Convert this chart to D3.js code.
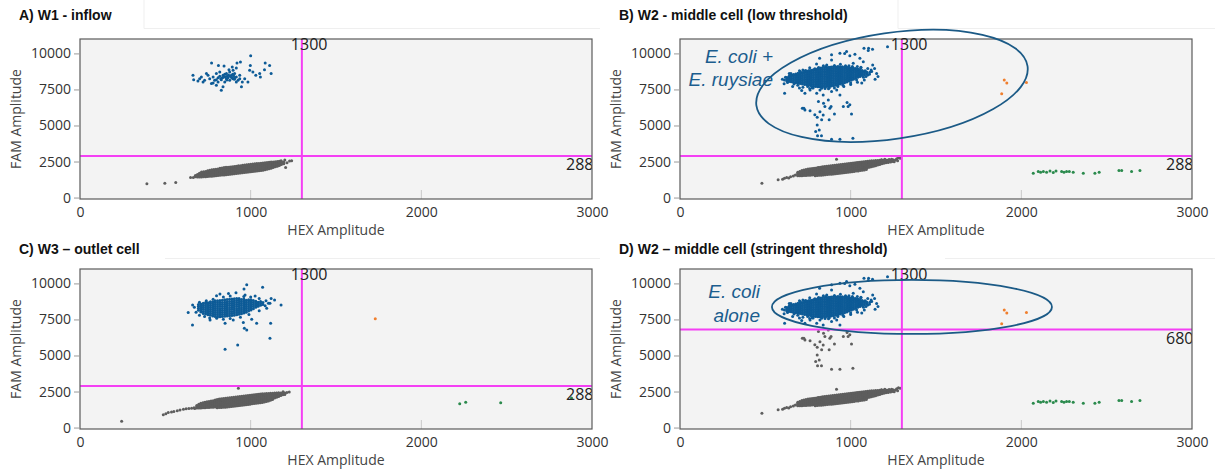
<!DOCTYPE html>
<html lang="en">
<head>
<meta charset="UTF-8">
<title>ddPCR 2D amplitude plots</title>
<script src="https://d3js.org/d3.v7.min.js"></script>
<style>
  body { margin: 0; background: #fff; }
  svg { display: block; }
</style>
</head>
<body>
<div id="chart"></div>
<script>
// axes
const hexDomain = [0, 3000];
const famDomain = [-100, 11000];
const hexTicks = [0, 1000, 2000, 3000];
const famTicks = [0, 2500, 5000, 7500, 10000];

// panels
const panelTitles = ["A) W1 - inflow", "B) W2 - middle cell (low threshold)",
                     "C) W3 \u2013 outlet cell", "D) W2 \u2013 middle cell (stringent threshold)"];
const panelWells = ["w1", "w2", "w3", "w2"];
const hexThreshold = [1300, 1300, 1300, 1300];
const famThreshold = [2880, 2880, 2880, 6800];

// droplets. "Core" arrays are columns: [HEX, FAM, FAM, ...]; the others are [HEX, FAM] pairs
const w1NegCore = [
  [676,1440,1525],[688,1430,1515,1600],[700,1425,1510,1595,1680],[712,1430,1515,1600,1690,1770],
  [724,1440,1525,1610,1700,1790],[736,1450,1535,1625,1715,1810],[748,1460,1550,1640,1730,1820,1860],
  [760,1475,1565,1655,1745,1835,1890],[772,1485,1575,1665,1755,1845,1925],[784,1500,1590,1680,1770,1860,1950],
  [796,1515,1605,1695,1785,1875,1970],[808,1530,1620,1710,1800,1890,1985],[820,1545,1635,1725,1815,1905,1995,2030],
  [832,1560,1650,1740,1830,1920,2010,2055],[844,1570,1660,1750,1840,1930,2020,2080],[856,1585,1675,1765,1855,1945,2035,2095],
  [868,1600,1690,1780,1870,1960,2050,2110],[880,1615,1705,1795,1885,1975,2065,2120],[892,1630,1720,1810,1900,1990,2080,2140],
  [904,1645,1735,1825,1915,2005,2095,2160],[916,1665,1755,1845,1935,2025,2115,2180],[928,1680,1770,1860,1950,2040,2130,2200],
  [940,1700,1790,1880,1970,2060,2150,2215],[952,1715,1805,1895,1985,2075,2165,2235],[964,1735,1825,1915,2005,2095,2185,2255],
  [976,1750,1840,1930,2020,2110,2200,2270],[988,1770,1860,1950,2040,2130,2220,2290],[1000,1790,1880,1970,2060,2150,2240,2305],
  [1012,1805,1895,1985,2075,2165,2255,2320],[1024,1825,1915,2005,2095,2185,2275,2340],[1036,1840,1930,2020,2110,2200,2290,2355],
  [1048,1855,1945,2035,2125,2215,2305,2370],[1060,1875,1965,2055,2145,2235,2320,2385],[1072,1895,1985,2075,2165,2255,2340,2400],
  [1084,1925,2010,2095,2180,2265,2350,2415],[1096,1960,2040,2120,2200,2280,2360,2430],[1108,2000,2075,2150,2225,2300,2375,2445],
  [1120,2040,2110,2180,2250,2320,2390,2460],[1132,2085,2150,2215,2280,2345,2410,2475],[1144,2130,2190,2250,2310,2370,2430,2490],
  [1156,2180,2235,2290,2345,2400,2455,2505],[1168,2230,2280,2330,2380,2430,2480,2520],[1180,2290,2340,2390,2440,2500],
  [1194,2350,2400,2460]
];
const w1NegOut = [[392,950],[497,990],[561,1040],[648,1390],[664,1400],[1213,2420],[1228,2530],
  [1205,2080],[1240,2560],[1178,2560],[1200,2610]];
const w1Pos = [[1000,9840],[771,9330],[811,9170],[844,9130],[892,9050],[920,9330],[940,9400],[998,9170],
  [1085,9330],[1111,9170],[1081,8870],[1120,8600],[1053,8600],[1013,8710],[1057,8370],[1030,8480],
  [994,8830],[662,8480],[666,8180],[691,8090],[711,8370],[730,8140],[750,8480],[760,8250],[780,8370],
  [789,8140],[799,8600],[809,8320],[819,8710],[828,8180],[838,8480],[848,8020],[858,8600],[867,8320],
  [877,8710],[887,8480],[897,8250],[906,8600],[916,8370],[926,8140],[936,8480],[951,8020],[965,8250],
  [984,8020],[799,7790],[828,7450],[838,7680],[770,7910],[946,7680],[897,8830],[873,8870],[916,8990],
  [741,8600],[780,7950],[721,8020],[701,8250],[858,8250],[877,8140],[862,8410],[887,8370],[906,8320],
  [834,8320],[848,8550],[819,8410],[799,8180],[809,8020],[936,8250],[916,8020],[870,8500],[890,8300],
  [850,8380],[880,8420],[900,8450],[905,8200],[860,8150],[825,8250],[840,8350],[895,8560]];

const w2NegCore = [
  [690,1505,1590,1675,1750],[702,1510,1595,1685,1770,1800],[714,1515,1600,1690,1780,1870],
  [726,1525,1615,1705,1795,1885,1920],[738,1535,1625,1715,1805,1895,1950],[750,1545,1635,1725,1815,1905,1980],
  [762,1555,1645,1735,1825,1915,2000],[774,1570,1660,1750,1840,1930,2020],[786,1580,1670,1760,1850,1940,2040],
  [798,1595,1685,1775,1865,1955,2055],[810,1610,1700,1790,1880,1970,2060,2085],[822,1625,1715,1805,1895,1985,2075,2110],
  [834,1640,1730,1820,1910,2000,2090,2135],[846,1655,1745,1835,1925,2015,2105,2155],[858,1670,1760,1850,1940,2030,2120,2170],
  [870,1685,1775,1865,1955,2045,2135,2190],[882,1700,1790,1880,1970,2060,2150,2205],[894,1720,1810,1900,1990,2080,2170,2225],
  [906,1735,1825,1915,2005,2095,2185,2245],[918,1755,1845,1935,2025,2115,2205,2265],[930,1770,1860,1950,2040,2130,2220,2280],
  [942,1790,1880,1970,2060,2150,2240,2300],[954,1810,1900,1990,2080,2170,2260,2315],[966,1825,1915,2005,2095,2185,2275,2330],
  [978,1845,1935,2025,2115,2205,2295,2350],[990,1865,1955,2045,2135,2225,2315,2365],[1002,1880,1970,2060,2150,2240,2330,2385],
  [1014,1900,1990,2080,2170,2260,2350,2400],[1026,1920,2010,2100,2190,2280,2370,2420],[1038,1940,2030,2120,2210,2300,2390,2440],
  [1050,1955,2045,2135,2225,2315,2405,2455],[1062,1975,2065,2155,2245,2335,2420,2470],[1074,1995,2085,2175,2265,2355,2440,2485],
  [1086,2025,2110,2195,2280,2365,2450,2500],[1098,2060,2140,2220,2300,2380,2460,2515],[1110,2095,2170,2245,2320,2395,2470,2530],
  [1122,2130,2200,2270,2340,2410,2480,2545],[1134,2170,2235,2300,2365,2430,2495,2555],[1146,2215,2275,2335,2395,2455,2515,2565],
  [1158,2260,2315,2370,2425,2480,2535,2575],[1170,2300,2350,2400,2450,2500,2550,2590],[1182,2340,2390,2440,2490,2540,2600],
  [1194,2380,2430,2480,2530,2590],[1206,2410,2460,2510,2560,2610],[1220,2440,2490,2540,2600],[1234,2470,2530,2590],
  [1248,2500,2560,2620]
];
const w2NegEdge = [[792,1510],[804,1525],[816,1540],[828,1550],[840,1565],[852,1580],[864,1595],[876,1610],
  [888,1625],[900,1640],[912,1660],[924,1675],[936,1690],[948,1710],[960,1725],[972,1745],[984,1760],
  [996,1780],[1008,1795],[1020,1815],[1032,1835],[1044,1850],[1056,1870],[1068,1890],[1080,1910],[1092,1940]];
const w2NegOut = [[480,1000],[575,1230],[601,1270],[612,1340],[625,1400],[637,1360],[648,1450],[664,1500],
  [676,1560],[1262,2610],[1270,2700],[1280,2760],[1240,2660],[1255,2480],[1290,2730],[917,2660],
  [1200,2650],[1226,2640],[1180,2620],[1275,2560]];
const w2PosCore = [
  [626,8090,8210,8330],[639,8060,8180,8300,8420],[652,8030,8150,8270,8390,8480],[665,8000,8120,8240,8360,8480,8540],
  [678,7970,8090,8210,8330,8450,8570],[691,7940,8060,8180,8300,8420,8540,8620],[704,7910,8030,8150,8270,8390,8510,8630],
  [717,7880,8000,8120,8240,8360,8480,8600,8680],[730,7850,7970,8090,8210,8330,8450,8570,8690,8740],
  [743,7820,7940,8060,8180,8300,8420,8540,8660,8780],[756,7790,7910,8030,8150,8270,8390,8510,8630,8750,8820],
  [769,7760,7880,8000,8120,8240,8360,8480,8600,8720,8840],[782,7730,7850,7970,8090,8210,8330,8450,8570,8690,8810,8870],
  [795,7710,7830,7950,8070,8190,8310,8430,8550,8670,8790,8910],
  [808,7690,7810,7930,8050,8170,8290,8410,8530,8650,8770,8890,8950],
  [821,7680,7800,7920,8040,8160,8280,8400,8520,8640,8760,8880,8990],
  [834,7680,7800,7920,8040,8160,8280,8400,8520,8640,8760,8880,9000],
  [847,7690,7810,7930,8050,8170,8290,8410,8530,8650,8770,8890,9010],
  [860,7700,7820,7940,8060,8180,8300,8420,8540,8660,8780,8900,9030],
  [873,7720,7840,7960,8080,8200,8320,8440,8560,8680,8800,8920,9040],
  [886,7740,7860,7980,8100,8220,8340,8460,8580,8700,8820,8940,9060],
  [899,7760,7880,8000,8120,8240,8360,8480,8600,8720,8840,8960,9070],
  [912,7790,7910,8030,8150,8270,8390,8510,8630,8750,8870,8990,9080],
  [925,7830,7950,8070,8190,8310,8430,8550,8670,8790,8910,9030,9090],
  [938,7870,7990,8110,8230,8350,8470,8590,8710,8830,8950,9070],
  [951,7920,8040,8160,8280,8400,8520,8640,8760,8880,9000,9070],
  [964,7970,8090,8210,8330,8450,8570,8690,8810,8930,9050],
  [977,8020,8140,8260,8380,8500,8620,8740,8860,8980,9040],
  [990,8080,8200,8320,8440,8560,8680,8800,8920,9020],[1003,8140,8260,8380,8500,8620,8740,8860,8980],
  [1016,8210,8330,8450,8570,8690,8810,8930,8990],[1029,8280,8400,8520,8640,8760,8880,8960],
  [1042,8340,8460,8580,8700,8820,8920],[1055,8400,8520,8640,8760,8880],[1068,8460,8580,8700,8820],
  [1081,8520,8640,8760],[1094,8590,8710]
];
const w2PosOut = [[1216,10460],[1105,10360],[1128,10290],[1078,10360],[1103,10200],[976,10130],[937,10010],
  [888,9900],[995,9830],[1025,9950],[965,9990],[818,9670],[1054,9670],[888,9550],[1074,9430],[1015,9320],
  [800,9270],[1039,9090],[1129,9200],[1123,8740],[1143,8210],[1152,8600],[1100,8950],[1090,8400],
  [1085,8800],[1060,9000],[990,9150],[940,9250],[860,9200],[760,9000],[700,8800],[640,8600],[600,8200],
  [610,7900],[660,7700],[700,7600],[720,7650],[780,7600],[850,7560],[905,7600],[960,7700],[1000,7850],
  [1040,8000],[1080,8150],[1110,8550],[1030,8900],[980,8980],[930,9050],[840,9150],[720,8850],[650,8600],
  [612,8150],[618,8350],[630,7980],[645,8500],[668,7880],[690,7800],[705,8720],[735,8820],[748,7700],
  [775,7620],[790,8930],[812,9030],[830,7580],[855,9100],[875,7620],[905,9170],[925,7700],[955,7800],
  [970,9150],[1000,7950],[1010,9100],[1035,8150],[1060,9040],[1075,8350],[1100,8500],[1112,8700],
  [1065,7950],[1120,8850],[1140,8950],[1160,8400],
  [613,7240],[713,7420],[732,7240],[762,7470],[801,7240],[820,7470],[839,7120],[888,7350],[918,7470],
  [937,7120],[869,6770],[811,6660],[717,6200],[732,6080],[762,6030],[820,5960],[849,6310],[878,6200],
  [957,6310],[995,6430],[1005,5800],[839,5730],[804,5570],[830,5390],[874,5390],[905,5800],[979,6590],
  [985,6310],[726,6200],[790,5740],[841,6540],[885,6310],[795,4580],[816,4690],[806,4280],[829,4280],
  [888,4040],[937,4050],[1013,4110],[804,5040],[760,7560],[870,7550]];
const w2Double = [[1900,8150],[1915,7950],[1885,7200],[2030,7980]];
const w2Hex = [[2070,1680],[2099,1800],[2113,1750],[2129,1800],[2148,1750],[2168,1850],[2187,1730],
  [2203,1850],[2236,1800],[2250,1750],[2265,1800],[2281,1800],[2304,1750],[2363,1680],[2431,1680],
  [2456,1750],[2572,1870],[2588,1870],[2646,1800],[2695,1870]];

const w3NegCore = [
  [684,1360,1445,1530],[696,1360,1445,1530,1615],[708,1365,1450,1535,1620,1690],[720,1370,1455,1545,1635,1725],
  [732,1375,1465,1555,1645,1735,1760],[744,1385,1475,1565,1655,1745,1790],[756,1395,1485,1575,1665,1755,1815],
  [768,1405,1495,1585,1675,1765,1840],[780,1415,1505,1595,1685,1775,1865],[792,1425,1520,1610,1700,1790,1880,1915],
  [804,1380,1445,1535,1625,1715,1805,1895,1945],[816,1385,1455,1545,1635,1725,1815,1905,1975],
  [828,1395,1470,1560,1650,1740,1830,1920,2000],[840,1405,1480,1570,1660,1750,1840,1930,2020],
  [852,1415,1495,1585,1675,1765,1855,1945,2040],[864,1430,1510,1600,1690,1780,1870,1960,2055],
  [876,1445,1525,1615,1705,1795,1885,1975,2070],[888,1460,1540,1630,1720,1810,1900,1990,2085],
  [900,1475,1555,1645,1735,1825,1915,2005,2100],[912,1490,1570,1660,1750,1840,1930,2020,2115],
  [924,1505,1590,1680,1770,1860,1950,2040,2130],[936,1525,1605,1695,1785,1875,1965,2055,2150],
  [948,1545,1625,1715,1805,1895,1985,2075,2170],[960,1565,1645,1735,1825,1915,2005,2095,2190],
  [972,1585,1660,1750,1840,1930,2020,2110,2205],[984,1605,1680,1770,1860,1950,2040,2130,2225],
  [996,1625,1700,1790,1880,1970,2060,2150,2240],[1008,1645,1715,1805,1895,1985,2075,2165,2260],
  [1020,1665,1735,1825,1915,2005,2095,2185,2275],[1032,1685,1750,1840,1930,2020,2110,2200,2290],
  [1044,1705,1770,1860,1950,2040,2130,2220,2310],[1056,1725,1785,1875,1965,2055,2145,2235,2325],
  [1068,1745,1800,1890,1980,2070,2160,2250,2340],[1080,1770,1830,1915,2000,2085,2170,2255,2345],
  [1092,1800,1865,1945,2025,2105,2185,2265,2355],[1104,1840,1905,1980,2055,2130,2205,2280,2365],
  [1116,1890,1950,2020,2090,2160,2230,2300,2375],[1128,1940,1995,2060,2125,2190,2255,2320,2385],
  [1140,2045,2105,2165,2225,2285,2345,2395],[1152,2100,2155,2210,2265,2320,2375,2405],
  [1164,2160,2210,2260,2310,2360,2410],[1176,2220,2265,2310,2355,2400],[1188,2270,2315,2360,2410],[1200,2300,2350,2400]
];
const w3NegOut = [[244,430],[488,880],[503,960],[517,1040],[536,1080],[550,1110],[570,1160],[586,1220],
  [606,1270],[622,1300],[638,1330],[654,1340],[668,1370],[672,1320],[928,2720],[1212,2430],[1226,2470],[1190,2480]];
const w3PosCore = [
  [694,8130,8270,8410,8530],[708,8010,8150,8290,8430,8570],[722,7920,8060,8200,8340,8480,8620],
  [736,7870,8010,8150,8290,8430,8570,8680],[750,7820,7960,8100,8240,8380,8520,8660],
  [764,7790,7930,8070,8210,8350,8490,8630,8720],[778,7740,7880,8020,8160,8300,8440,8580,8720],
  [792,7700,7840,7980,8120,8260,8400,8540,8680,8790],[806,7680,7820,7960,8100,8240,8380,8520,8660,8800],
  [820,7690,7830,7970,8110,8250,8390,8530,8670,8810],[834,7700,7840,7980,8120,8260,8400,8540,8680,8840],
  [848,7720,7860,8000,8140,8280,8420,8560,8700,8860],[862,7740,7880,8020,8160,8300,8440,8580,8720,8880],
  [876,7760,7900,8040,8180,8320,8460,8600,8740,8900],[890,7780,7920,8060,8200,8340,8480,8620,8760,8920],
  [904,7800,7940,8080,8220,8360,8500,8640,8780,8940],[918,7830,7970,8110,8250,8390,8530,8670,8810,8960],
  [932,7860,8000,8140,8280,8420,8560,8700,8840,8950],[946,7900,8040,8180,8320,8460,8600,8740,8880],
  [960,7940,8080,8220,8360,8500,8640,8780,8920],[974,8000,8140,8280,8420,8560,8700,8840],
  [988,8080,8220,8360,8500,8640,8780,8870],[1002,8160,8300,8440,8580,8720,8860],[1016,8250,8390,8530,8670,8810],
  [1030,8340,8480,8620,8760],[1044,8420,8560,8700],[1058,8480,8620,8740],[1072,8540,8680]
];
const w3PosOut = [[634,7980],[659,7120],[820,9270],[914,9360],[977,9900],[961,9620],[1070,9730],[967,9200],
  [1026,9130],[1178,8510],[1113,8620],[1117,7240],[1113,6200],[850,5430],[924,5730],[957,7280],[977,6770],
  [963,6890],[1035,7240],[1006,7510],[850,7240],[898,7470],[801,7580],[762,7470],[1094,8280],[1104,8620],
  [670,8350],[680,8000],[700,7800],[730,7700],[760,7600],[840,7520],[880,7560],[940,7650],[990,7850],
  [1050,8100],[1085,8450],[1090,8800],[1050,8950],[1000,9050],[960,9100],[880,9120],[840,9050],[780,8900],
  [740,8800],[700,8700],[1120,8950],[1140,8850],[870,9300],[800,9150],[660,8500]];
const w3Double = [[1730,7550]];
const w3Hex = [[2225,1650],[2260,1750],[2465,1720],[2880,2050]];

function unfold(cols) {
  return cols.flatMap(c => c.slice(1).map(f => [c[0], f]));
}

const wells = {
  w1: unfold(w1NegCore).concat(w1NegOut, w1Pos),
  w2: unfold(w2NegCore).concat(w2NegEdge, w2NegOut, unfold(w2PosCore), w2PosOut, w2Double, w2Hex),
  w3: unfold(w3NegCore).concat(w3NegOut, unfold(w3PosCore), w3PosOut, w3Double, w3Hex)
};

const clusterColor = { neg: "#5e5e5e", fam: "#0d5b97", both: "#f07f2e", hex: "#2a8a4c" };
const clusterOrder = ["neg", "fam", "both", "hex"];

function classify(h, f, ht, ft) {
  if (f >= ft) return h >= ht ? "both" : "fam";
  return h >= ht ? "hex" : "neg";
}

// layout
const W = 1215, H = 475;
const panelOrigin = [[0, 0], [600, 0], [0, 230], [600, 230]];
const titleBaseline = [20, 20, 24, 24];
const titleBoxRight = [144, 298, 165, 345];
const plot = { left: 80, right: 592, top: 39, bottom: 199 };
const tickFont = "'Open Sans', 'DejaVu Sans', sans-serif";
const titleFont = "'Liberation Sans', Arial, sans-serif";

const svg = d3.select("#chart").append("svg").attr("width", W).attr("height", H);
svg.append("rect").attr("width", W).attr("height", H).attr("fill", "#fff");
const defs = svg.append("defs");

panelTitles.forEach((title, i) => {
  const [ox, oy] = panelOrigin[i];
  const g = svg.append("g").attr("transform", `translate(${ox},${oy})`);

  // title box (it hides the bottom of the panel above, as in the original slide)
  if (oy > 0) {
    g.append("rect").attr("x", 0).attr("y", 6).attr("width", titleBoxRight[i]).attr("height", 22).attr("fill", "#fff");
    g.append("path").attr("d", `M${titleBoxRight[i]},28.5H${i % 2 ? 615 : 600}`)
      .attr("fill", "none").attr("stroke", "#efefef");
  } else {
    g.append("path").attr("d", `M${titleBoxRight[i]},0V28.5H${i % 2 ? 615 : 600}`)
      .attr("fill", "none").attr("stroke", "#efefef");
  }
  g.append("text").attr("x", 19).attr("y", titleBaseline[i])
    .attr("font-family", titleFont).attr("font-weight", "bold").attr("font-size", 14)
    .attr("fill", "#111").text(title);

  const x = d3.scaleLinear().domain(hexDomain).range([plot.left, plot.right]);
  const y = d3.scaleLinear().domain(famDomain).range([plot.bottom, plot.top]);

  g.append("rect").attr("x", plot.left).attr("y", plot.top)
    .attr("width", plot.right - plot.left).attr("height", plot.bottom - plot.top)
    .attr("fill", "#f3f3f3");

  // small inner ticks along the bottom
  g.selectAll(".itick").data(hexTicks.slice(1, -1)).join("line")
    .attr("x1", d => x(d)).attr("x2", d => x(d))
    .attr("y1", plot.bottom - 9).attr("y2", plot.bottom)
    .attr("stroke", "#c8c8c8");

  defs.append("clipPath").attr("id", "clip" + i)
    .append("rect").attr("x", plot.left).attr("y", plot.top)
    .attr("width", plot.right - plot.left).attr("height", plot.bottom - plot.top);
  const inner = g.append("g").attr("clip-path", `url(#clip${i})`);

  const pts = wells[panelWells[i]]
    .map(([h, f]) => ({ h, f, c: classify(h, f, hexThreshold[i], famThreshold[i]) }))
    .sort((a, b) => clusterOrder.indexOf(a.c) - clusterOrder.indexOf(b.c));

  inner.selectAll("circle").data(pts).join("circle")
    .attr("cx", d => x(d.h)).attr("cy", d => y(d.f))
    .attr("r", 1.5).attr("fill", d => clusterColor[d.c]);

  // threshold lines
  const tx = x(hexThreshold[i]), ty = y(famThreshold[i]);
  inner.append("line").attr("x1", tx).attr("x2", tx).attr("y1", plot.top).attr("y2", plot.bottom)
    .attr("stroke", "#f43ff4").attr("stroke-width", 2);
  inner.append("line").attr("x1", plot.left).attr("x2", plot.right).attr("y1", ty).attr("y2", ty)
    .attr("stroke", "#f43ff4").attr("stroke-width", 2);
  inner.append("text").attr("x", plot.right - 26).attr("y", ty + 14)
    .attr("font-family", tickFont).attr("font-size", 16).attr("fill", "#222")
    .text(famThreshold[i]);

  g.append("rect").attr("x", plot.left).attr("y", plot.top)
    .attr("width", plot.right - plot.left).attr("height", plot.bottom - plot.top)
    .attr("fill", "none").attr("stroke", "#5a5a5a").attr("stroke-width", 1.2);

  g.append("text").attr("x", tx - 11).attr("y", plot.top + 11)
    .attr("font-family", tickFont).attr("font-size", 16).attr("fill", "#222")
    .text(hexThreshold[i]);

  // axes
  const yAxis = g.append("g").attr("transform", `translate(${plot.left},0)`)
    .call(d3.axisLeft(y).tickValues(famTicks).tickSize(6).tickPadding(3).tickFormat(d3.format("d")));
  yAxis.select(".domain").remove();
  yAxis.attr("font-family", tickFont).attr("font-size", 14);
  yAxis.selectAll("line").attr("stroke", "#9a9a9a");
  yAxis.selectAll("text").attr("fill", "#333");

  const xAxis = g.append("g").attr("transform", `translate(0,${plot.bottom})`)
    .call(d3.axisBottom(x).tickValues(hexTicks).tickSize(0).tickPadding(8).tickFormat(d3.format("d")));
  xAxis.select(".domain").remove();
  xAxis.attr("font-family", tickFont).attr("font-size", 14);
  xAxis.selectAll("text").attr("fill", "#333");

  g.append("text").attr("x", (plot.left + plot.right) / 2).attr("y", 235)
    .attr("text-anchor", "middle").attr("font-family", tickFont).attr("font-size", 14)
    .attr("fill", "#444").text("HEX Amplitude");
  g.append("text").attr("transform", `translate(21,${(plot.top + plot.bottom) / 2}) rotate(-90)`)
    .attr("text-anchor", "middle").attr("font-family", tickFont).attr("font-size", 14)
    .attr("fill", "#444").text("FAM Amplitude");

  // cluster annotations on the W2 panels
  if (i === 1) {
    g.append("ellipse").attr("cx", x(1242)).attr("cy", y(7745)).attr("rx", 137).attr("ry", 53)
      .attr("transform", `rotate(-8.3,${x(1242)},${y(7745)})`)
      .attr("fill", "none").attr("stroke", "#1b5a86").attr("stroke-width", 1.8);
    [["E. coli +", 63], ["E. ruysiae", 86]].forEach(([t, by]) => {
      g.append("text").attr("x", 173).attr("y", by).attr("text-anchor", "end")
        .attr("font-family", titleFont).attr("font-style", "italic").attr("font-size", 19)
        .attr("fill", "#1b5d8e").text(t);
    });
  }
  if (i === 3) {
    g.append("ellipse").attr("cx", x(1359)).attr("cy", y(8369)).attr("rx", 140).attr("ry", 27)
      .attr("fill", "none").attr("stroke", "#1b5a86").attr("stroke-width", 1.8);
    [["E. coli", 68], ["alone", 92]].forEach(([t, by]) => {
      g.append("text").attr("x", 160).attr("y", by).attr("text-anchor", "end")
        .attr("font-family", titleFont).attr("font-style", "italic").attr("font-size", 19)
        .attr("fill", "#1b5d8e").text(t);
    });
  }
});
</script>
</body>
</html>
